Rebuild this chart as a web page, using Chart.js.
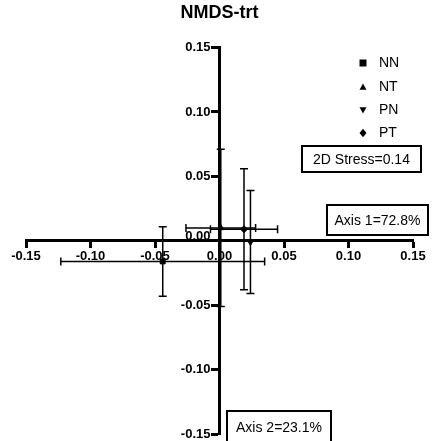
<!DOCTYPE html>
<html>
<head>
<meta charset="utf-8">
<script src="https://cdn.jsdelivr.net/npm/chart.js@4.4.1/dist/chart.umd.min.js"></script>
<style>
  html, body { margin: 0; padding: 0; background: #fff; }
  #wrap { width: 432px; height: 441px; }
</style>
</head>
<body>
<div id="wrap"><canvas id="mycanvas"></canvas></div>
<script>
// NMDS group centroids (mean +/- error)
var groups = ['NN', 'NT', 'PN', 'PT'];
var shapes = ['rect', 'triangle', 'triangle', 'rectRot'];
var rotations = [0, 0, 180, 0];
var axis1 = [-0.044, 0.001, 0.024, 0.019];
var axis2 = [-0.016, 0.010, -0.001, 0.009];
var err1 = [0.079, 0.027, 0.000, 0.026];
var err2 = [0.027, 0.061, 0.040, 0.047];
var tickValues = [-0.15, -0.10, -0.05, 0.00, 0.05, 0.10, 0.15];
var stressLabel = '2D Stress=0.14';
var axis1Label = 'Axis 1=72.8%';
var axis2Label = 'Axis 2=23.1%';

var FONT = 'Arial, "Liberation Sans", sans-serif';

var datasets = [];
for (var i in groups) {
  datasets.push({
    label: groups[i],
    data: [{x: axis1[i], y: axis2[i]}],
    pointStyle: shapes[i],
    rotation: rotations[i],
    pointRadius: 3.5,
    backgroundColor: '#000',
    borderColor: '#000',
    borderWidth: 1
  });
}

// error bars drawn with the chart's own scales
var errorBars = {
  id: 'errorBars',
  afterDatasetsDraw: function(chart) {
    var ctx = chart.ctx, xs = chart.scales.x, ys = chart.scales.y;
    var cap = 4;
    ctx.save();
    ctx.strokeStyle = '#000';
    ctx.lineWidth = 1.5;
    for (var i = 0; i < groups.length; i++) {
      var px = xs.getPixelForValue(axis1[i]);
      var py = ys.getPixelForValue(axis2[i]);
      if (err1[i] > 0) {
        var x0 = xs.getPixelForValue(axis1[i] - err1[i]);
        var x1 = xs.getPixelForValue(axis1[i] + err1[i]);
        ctx.beginPath();
        ctx.moveTo(x0, py); ctx.lineTo(x1, py);
        ctx.moveTo(x0, py - cap); ctx.lineTo(x0, py + cap);
        ctx.moveTo(x1, py - cap); ctx.lineTo(x1, py + cap);
        ctx.stroke();
      }
      if (err2[i] > 0) {
        var y0 = ys.getPixelForValue(axis2[i] - err2[i]);
        var y1 = ys.getPixelForValue(axis2[i] + err2[i]);
        ctx.beginPath();
        ctx.moveTo(px, y0); ctx.lineTo(px, y1);
        ctx.moveTo(px - cap, y0); ctx.lineTo(px + cap, y0);
        ctx.moveTo(px - cap, y1); ctx.lineTo(px + cap, y1);
        ctx.stroke();
      }
    }
    ctx.restore();
  }
};

// y tick labels to the left of the centred axis
var yLabels = {
  id: 'yLabels',
  afterDraw: function(chart) {
    var ctx = chart.ctx, xs = chart.scales.x, ys = chart.scales.y;
    var ax = xs.getPixelForValue(0);
    ctx.save();
    ctx.font = 'bold 13px ' + FONT;
    ctx.fillStyle = '#000';
    ctx.textAlign = 'right';
    ctx.textBaseline = 'middle';
    ys.ticks.forEach(function(t) {
      var yy = ys.getPixelForValue(t.value);
      if (t.value === 0) yy -= 4;
      ctx.fillText(t.value.toFixed(2), ax - 9, yy);
    });
    ctx.restore();
  }
};

function marker(ctx, shape, rot, x, y, r) {
  ctx.beginPath();
  if (shape === 'rect') {
    ctx.rect(x - r, y - r, 2 * r, 2 * r);
  } else if (shape === 'rectRot') {
    ctx.moveTo(x, y - r * 1.2); ctx.lineTo(x + r, y); ctx.lineTo(x, y + r * 1.2); ctx.lineTo(x - r, y);
  } else {
    var d = rot === 180 ? -1 : 1;
    ctx.moveTo(x, y - d * r); ctx.lineTo(x + r, y + d * r * 0.8); ctx.lineTo(x - r, y + d * r * 0.8);
  }
  ctx.closePath();
  ctx.fill();
}

// legend + text boxes
var notes = {
  id: 'notes',
  afterDraw: function(chart) {
    var ctx = chart.ctx;
    ctx.save();
    ctx.font = '14px ' + FONT;
    ctx.fillStyle = '#000';
    ctx.strokeStyle = '#000';
    ctx.textBaseline = 'middle';
    var rows = [63, 87, 110, 133];
    for (var i = 0; i < groups.length; i++) {
      marker(ctx, shapes[i], rotations[i], 363, rows[i], 3.5);
      ctx.textAlign = 'left';
      ctx.fillText(groups[i], 379, rows[i]);
    }
    ctx.lineWidth = 2;
    function box(text, x, y, w, h) {
      ctx.strokeRect(x, y, w, h);
      ctx.textAlign = 'center';
      ctx.fillText(text, x + w / 2, y + h / 2 + 1);
    }
    box(stressLabel, 302, 146, 119, 26);
    box(axis1Label, 327, 205, 101, 30);
    box(axis2Label, 227, 411, 104, 32);
    ctx.restore();
  }
};

var tickFont = {family: FONT, size: 13, weight: 'bold'};

var ctx = document.getElementById('mycanvas');
var chart = new Chart(ctx, {
  type: 'scatter',
  data: {datasets: datasets},
  plugins: [errorBars, yLabels, notes],
  options: {
    responsive: true,
    maintainAspectRatio: false,
    animation: false,
    layout: {padding: {top: 2, left: 26, right: 19, bottom: 7}},
    plugins: {
      legend: {display: false},
      tooltip: {enabled: false},
      title: {
        display: true,
        text: 'NMDS-trt',
        color: '#000',
        font: {family: FONT, size: 18, weight: 'bold'},
        padding: {top: 0, bottom: 24}
      }
    },
    scales: {
      x: {
        type: 'linear',
        position: {y: 0},
        min: -0.15, max: 0.15,
        afterBuildTicks: function(axis) { axis.ticks = tickValues.map(function(v) { return {value: v}; }); },
        grid: {drawOnChartArea: false, drawTicks: true, tickLength: 6, tickWidth: 3, tickColor: '#000'},
        border: {display: true, color: '#000', width: 3},
        ticks: {color: '#000', font: tickFont, padding: 2, maxRotation: 0,
          callback: function(v) { return v.toFixed(2); }}
      },
      y: {
        type: 'linear',
        position: {x: 0},
        min: -0.15, max: 0.15,
        afterBuildTicks: function(axis) { axis.ticks = tickValues.map(function(v) { return {value: v}; }); },
        grid: {drawOnChartArea: false, drawTicks: true, tickLength: 7, tickWidth: 3, tickColor: '#000'},
        border: {display: true, color: '#000', width: 3},
        ticks: {display: false}
      }
    }
  }
});
</script>
</body>
</html>
